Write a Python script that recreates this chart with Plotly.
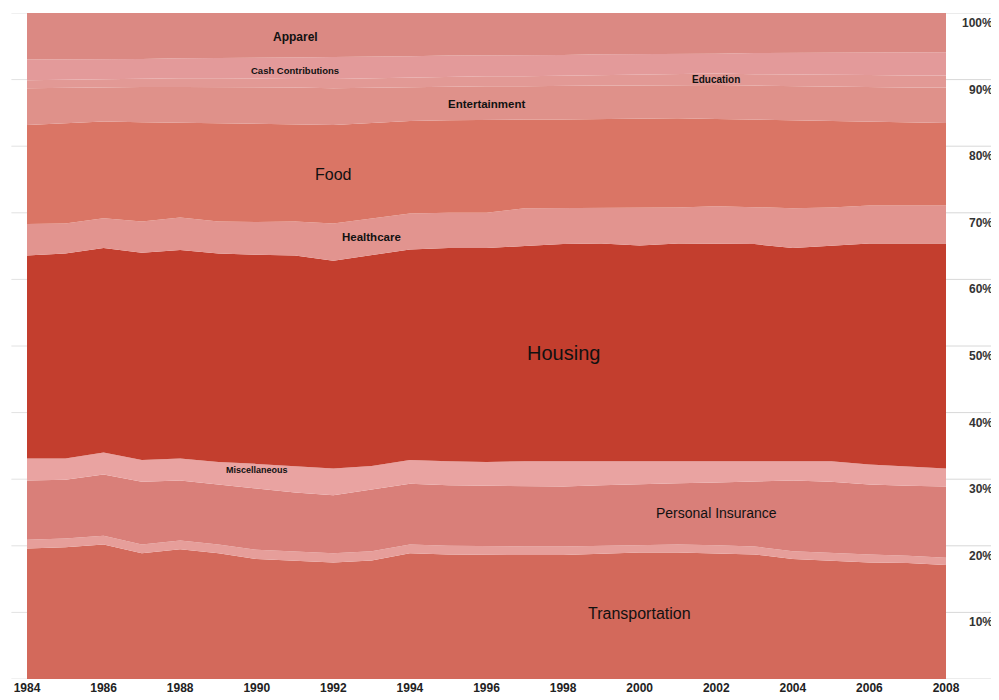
import plotly.graph_objects as go

years = list(range(1984, 2009))

transportation = [19.6,19.8,20.2,18.9,19.5,18.9,18.0,17.8,17.5,17.8,18.9,18.7,18.6,18.6,18.6,18.8,19.0,19.0,18.9,18.7,18.0,17.7,17.5,17.4,17.1]
other = [1.3,1.3,1.3,1.3,1.3,1.3,1.4,1.4,1.4,1.4,1.3,1.3,1.3,1.3,1.3,1.2,1.2,1.2,1.2,1.2,1.2,1.2,1.2,1.1,1.1]
personal_insurance = [8.9,8.8,9.2,9.4,9.0,9.0,9.1,8.8,8.7,9.2,9.1,9.1,9.1,9.0,9.0,9.1,9.1,9.2,9.4,9.7,10.6,10.7,10.5,10.5,10.7]
miscellaneous = [3.3,3.2,3.3,3.3,3.3,3.4,3.8,4.0,4.0,3.6,3.6,3.6,3.6,3.8,3.8,3.6,3.4,3.3,3.2,3.2,3.0,3.1,3.0,2.9,2.7]
housing = [30.5,30.8,30.7,31.1,31.3,31.3,31.4,31.6,31.2,31.6,31.6,32.0,32.1,32.3,32.6,32.7,32.4,32.7,32.7,32.5,31.9,32.4,33.2,33.5,33.8]
healthcare = [4.7,4.5,4.5,4.7,4.9,4.8,4.9,5.1,5.6,5.6,5.4,5.3,5.3,5.7,5.4,5.4,5.7,5.4,5.6,5.5,6.0,5.7,5.7,5.7,5.7]
food = [14.9,15.1,14.5,14.9,14.2,14.7,14.8,14.6,14.8,14.3,13.9,13.9,14.0,13.3,13.3,13.3,13.3,13.4,13.1,13.2,13.1,12.9,12.6,12.5,12.4]
entertainment = [5.5,5.3,5.2,5.3,5.4,5.5,5.4,5.5,5.5,5.3,5.1,5.1,5.0,5.0,5.1,5.0,5.0,5.0,5.1,5.1,5.2,5.2,5.2,5.2,5.3]
education = [1.2,1.2,1.2,1.3,1.3,1.3,1.3,1.3,1.4,1.4,1.4,1.5,1.5,1.5,1.5,1.5,1.6,1.6,1.7,1.7,1.8,1.8,1.8,1.8,1.8]
cash_contributions = [3.1,3.0,3.0,2.9,3.0,3.0,3.2,3.2,3.3,3.2,3.2,3.1,3.1,3.2,3.1,3.2,3.1,3.1,3.0,3.2,3.2,3.3,3.4,3.5,3.5]
apparel = [7.0,7.0,6.9,6.9,6.8,6.8,6.7,6.7,6.6,6.6,6.5,6.4,6.4,6.3,6.3,6.2,6.2,6.1,6.1,6.0,6.0,6.0,5.9,5.9,5.9]

x_ticks = list(range(1984, 2009, 2))
y_grid = [0, 10, 20, 30, 40, 50, 60, 70, 80, 90, 100]
y_labels = [10, 20, 30, 40, 50, 60, 70, 80, 90, 100]

series = [
    ("Transportation", transportation, "#d3695b"),
    ("Other", other, "#e69e9a"),
    ("Personal Insurance", personal_insurance, "#d97f79"),
    ("Miscellaneous", miscellaneous, "#e9a3a1"),
    ("Housing", housing, "#c33e2e"),
    ("Healthcare", healthcare, "#e2948f"),
    ("Food", food, "#da7565"),
    ("Entertainment", entertainment, "#df918a"),
    ("Education", education, "#e29995"),
    ("Cash Contributions", cash_contributions, "#e39a9a"),
    ("Apparel", apparel, "#db8983"),
]

fig = go.Figure()
for name, vals, col in series:
    fig.add_trace(go.Scatter(
        x=years, y=vals, name=name, mode="lines",
        stackgroup="one", groupnorm="percent",
        line=dict(width=0, color=col), fillcolor=col,
        hoverinfo="skip",
    ))

# in-chart labels: (text, year, percent, size, bold)
labels = [
    ("Apparel", 1991, 96.4, 12, True),
    ("Cash Contributions", 1991, 91.4, 9.5, True),
    ("Education", 2002, 90.0, 10, True),
    ("Entertainment", 1996, 86.4, 11.5, True),
    ("Food", 1992, 75.8, 16, False),
    ("Healthcare", 1993, 66.3, 11.5, True),
    ("Housing", 1998, 48.9, 20, False),
    ("Miscellaneous", 1990, 31.4, 9, True),
    ("Personal Insurance", 2002, 24.9, 14, False),
    ("Transportation", 2000, 9.8, 16, False),
]
annotations = []
for txt, yr, pct, size, bold in labels:
    annotations.append(dict(
        x=yr, y=pct, xref="x", yref="y", text=txt, showarrow=False,
        xanchor="center", yanchor="middle",
        font=dict(family="Liberation Sans, Arial, sans-serif", size=size,
                  color="#111111", weight="bold" if bold else "normal"),
    ))

for v in y_labels:
    annotations.append(dict(
        x=1.053, y=v, xref="paper", yref="y", text=f"{v}%", showarrow=False,
        xanchor="right", yanchor="middle", yshift=-10,
        font=dict(family="Liberation Sans, Arial, sans-serif", size=12,
                  color="#333333", weight="bold"),
    ))

shapes = []
for v in y_grid:
    shapes.append(dict(type="line", xref="paper", yref="y",
                       x0=1.0, x1=1.056, y0=v, y1=v,
                       line=dict(color="#d8d8d8", width=1)))
    shapes.append(dict(type="line", xref="paper", yref="y",
                       x0=-0.017, x1=0.0, y0=v, y1=v,
                       line=dict(color="#e2e2e2", width=1)))

# page body has an 8px margin; size the figure so the plot lands where the reference has it
fig.update_layout(
    width=991, height=692,
    margin=dict(l=19, r=53, t=5, b=16),
    paper_bgcolor="white", plot_bgcolor="white",
    showlegend=False,
    annotations=annotations,
    shapes=shapes,
    xaxis=dict(range=[1984, 2008], tickvals=x_ticks, ticktext=[str(t) for t in x_ticks],
               showgrid=False, zeroline=False, showline=False, ticks="",
               tickfont=dict(family="Liberation Sans, Arial, sans-serif", size=12,
                             color="#222222", weight="bold")),
    yaxis=dict(range=[0, 100], showgrid=False, zeroline=False, showline=False,
               showticklabels=False, ticks=""),
)

fig.write_html("out.html")
